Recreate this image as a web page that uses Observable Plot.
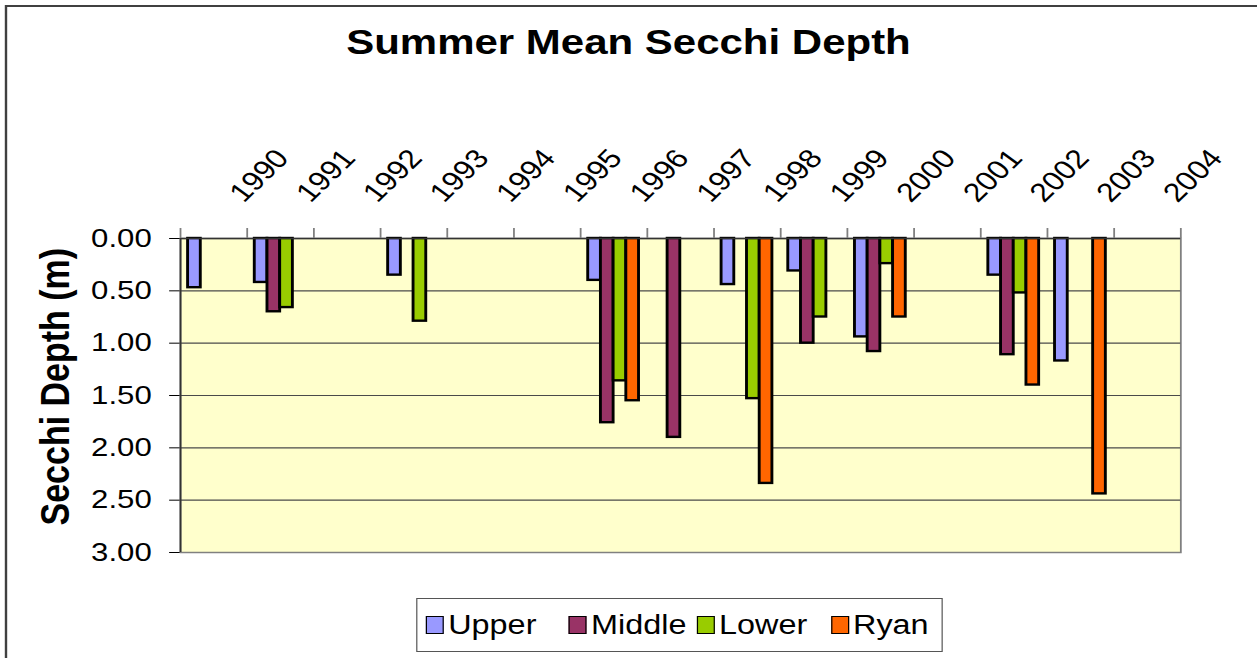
<!DOCTYPE html>
<html>
<head>
<meta charset="utf-8">
<script src="https://cdn.jsdelivr.net/npm/d3@7"></script>
<script src="https://cdn.jsdelivr.net/npm/@observablehq/plot@0.6"></script>
<style>
  html, body { margin: 0; padding: 0; background: #fff; overflow: hidden; width: 1257px; height: 658px; }
  #stage { position: absolute; left: 0; top: 0; width: 1048px; height: 658px; transform-origin: 0 0;
           font-family: "Liberation Sans", Arial, sans-serif; color: #000; }
  #border { position: absolute; left: 4px; top: 5px; width: 1300px; height: 1000px; border: 2px solid #404040; box-sizing: border-box; }
  #title { position: absolute; left: 0; top: 24px; width: 1048px; text-align: center; font-weight: bold;
           font-size: 35px; line-height: 35px; }
  #chart { position: absolute; left: 0; top: 0; }
  #legend { position: absolute; left: 346.7px; top: 598px; width: 439px; height: 54px; border: 1px solid #555;
            box-sizing: border-box; font-size: 27px; background: #fff; }
  .sw { position: absolute; top: 17px; width: 15px; height: 18px; border: 1.5px solid #000; box-sizing: border-box; }
  .lab { position: absolute; top: 0; line-height: 52px; white-space: nowrap; }
</style>
</head>
<body>
<div id="stage">
  <div id="border"></div>
  <div id="chart"></div>
  <div id="title"></div>
  <div id="legend"></div>
</div>
<script>
// ---- data ----
const chartTitle = "Summer Mean Secchi Depth";
const yTitle = "Secchi Depth (m)";
const years = ["1990","1991","1992","1993","1994","1995","1996","1997","1998","1999","2000","2001","2002","2003","2004"];
const seriesNames = ["Upper", "Middle", "Lower", "Ryan"];
const seriesColors = ["#9999FF", "#993366", "#99CC00", "#FF6600"];
const upper  = [0.47, 0.42, null, 0.35, null, null, 0.40, null, 0.44, 0.31, 0.94, null, 0.35, 1.17, null];
const middle = [null, 0.70, null, null, null, null, 1.76, 1.90, null, 1.00, 1.08, null, 1.11, null, null];
const lower  = [null, 0.66, null, 0.79, null, null, 1.36, null, 1.53, 0.75, 0.24, null, 0.52, null, null];
const ryan   = [null, null, null, null, null, null, 1.55, null, 2.34, null, 0.75, null, 1.40, 2.44, null];
const yTicks = [0, 0.5, 1, 1.5, 2, 2.5, 3];
const gridValues = [0.5, 1, 1.5, 2, 2.5];

// ---- layout ----
const W = 1048, H = 658;
const S = 1257 / W;               // horizontal stretch of the original picture
const mL = 150, mR = 64, mT = 238, mB = 106;
const bw = (W - mL - mR) / years.length;
const off = bw * 0.115, barW = bw * 0.1905;

document.getElementById("stage").style.transform = `scaleX(${S})`;
document.getElementById("title").textContent = chartTitle;

const seriesValues = [upper, middle, lower, ryan];
const barMarks = seriesValues.map((vals, k) => Plot.barY(
  years.map((yr, i) => ({year: yr, value: vals[i]})).filter(d => d.value != null),
  {x: "year", y1: d => 0, y2: "value", fill: seriesColors[k], stroke: "#000", strokeWidth: 2.4,
   insetLeft: off + barW * k, insetRight: bw - off - barW * (k + 1)}
));

const chart = Plot.plot({
  width: W, height: H,
  marginLeft: mL, marginRight: mR, marginTop: mT, marginBottom: mB,
  style: {background: "transparent", fontFamily: "'Liberation Sans', Arial, sans-serif", fontSize: "26px", color: "#000", overflow: "visible"},
  x: {type: "band", domain: years, padding: 0, round: false, axis: null},
  y: {domain: [0, 3], reverse: true, ticks: yTicks, tickFormat: d3.format(".2f"), tickSize: 9, tickPadding: 15, label: null},
  marks: [
    Plot.frame({fill: "#FFFFCC", stroke: "#808080", strokeWidth: 1.5}),
    Plot.ruleY(gridValues, {stroke: "#4a4a4a", strokeWidth: 1.2}),
    ...barMarks,
    Plot.ruleY([0], {stroke: "#333", strokeWidth: 1.5}),
    Plot.ruleX(years, {dx: -bw / 2, insetTop: -10, insetBottom: H - mT - mB, stroke: "#808080", strokeWidth: 1.5}),
    Plot.ruleX([years[years.length - 1]], {dx: bw / 2, insetTop: -10, insetBottom: H - mT - mB, stroke: "#808080", strokeWidth: 1.5}),
    Plot.ruleX([years[0]], {dx: -bw / 2, stroke: "#333", strokeWidth: 1.5}),
    Plot.text(years, {x: d => d, text: d => d, frameAnchor: "top", textAnchor: "start", lineAnchor: "bottom",
                      rotate: -49, dx: 25, dy: -35, fontSize: 26.5}),
    Plot.text([yTitle], {frameAnchor: "left", text: d => d, rotate: -90, textAnchor: "start", lineAnchor: "bottom",
                         dx: -93, dy: 130, fontSize: 34, fontWeight: "bold"})
  ]
});
document.getElementById("chart").appendChild(chart);

// legend
const legend = document.getElementById("legend");
const legendLeft = [7.5, 126.6, 233.3, 345];
seriesNames.forEach((name, k) => {
  const sw = document.createElement("span");
  sw.className = "sw";
  sw.style.left = legendLeft[k] + "px";
  sw.style.background = seriesColors[k];
  const label = document.createElement("span");
  label.className = "lab";
  label.style.left = (legendLeft[k] + 18.5) + "px";
  label.textContent = name;
  legend.appendChild(sw);
  legend.appendChild(label);
});
</script>
</body>
</html>
